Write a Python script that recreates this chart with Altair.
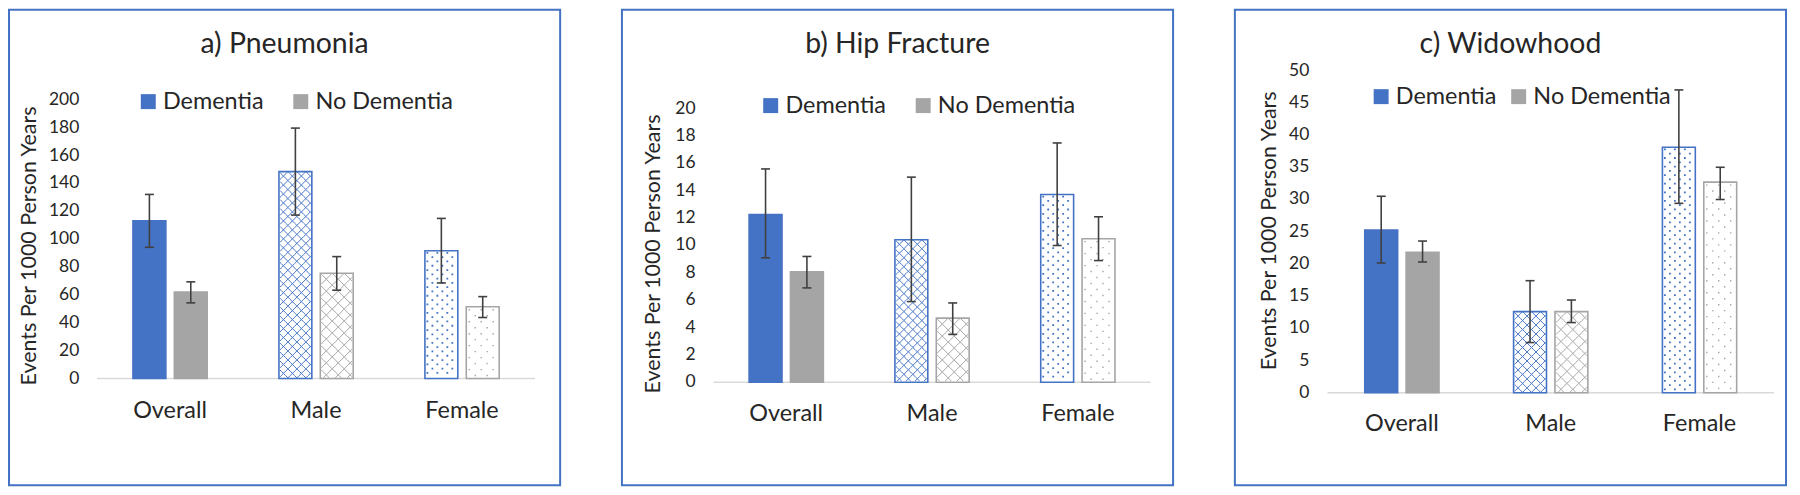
import altair as alt
import pandas as pd

# ---------------- data ----------------
categories = ["Overall", "Male", "Female"]
groups = ["Dementia", "No Dementia"]
titles = ["a) Pneumonia", "b) Hip Fracture", "c) Widowhood"]
y_title = "Events Per 1000 Person Years"

pneu_dem = [113.2, 148.5, 91.7]
pneu_dem_lo = [94.2, 117.3, 68.6]
pneu_dem_hi = [132.1, 179.7, 114.9]
pneu_nodem = [62.0, 75.6, 51.5]
pneu_nodem_lo = [54.3, 63.4, 43.8]
pneu_nodem_hi = [69.4, 87.5, 58.8]
pneu_ticks = [0, 20, 40, 60, 80, 100, 120, 140, 160, 180, 200]

hip_dem = [12.27, 10.42, 13.73]
hip_dem_lo = [9.1, 5.9, 10.0]
hip_dem_hi = [15.6, 15.0, 17.5]
hip_nodem = [8.07, 4.69, 10.5]
hip_nodem_lo = [6.9, 3.5, 8.9]
hip_nodem_hi = [9.2, 5.8, 12.1]
hip_ticks = [0, 2, 4, 6, 8, 10, 12, 14, 16, 18, 20]

wid_dem = [25.25, 12.6, 38.1]
wid_dem_lo = [20.15, 7.8, 29.4]
wid_dem_hi = [30.5, 17.4, 47.0]
wid_nodem = [21.8, 12.6, 32.7]
wid_nodem_lo = [20.3, 10.9, 30.0]
wid_nodem_hi = [23.55, 14.4, 35.0]
wid_ticks = [0, 5, 10, 15, 20, 25, 30, 35, 40, 45, 50]

# ---------------- style ----------------
BLUE = "#4472C4"
GRAY = "#A5A5A5"
TXT = "#262626"
FONT = "Lato"
W, H = 553, 477
BW, GAP = 33.0, 8.5
HATCH_P = {"D": 9.0, "N": 12.0}
DOT_H = {"D": 10.0, "N": 12.0}
DOT_R = {"D": 4.3, "N": 6.0}
DOT_S = {"D": 1.8, "N": 1.4}


def fmt(v):
    return f"{v:.4f}"


def hatch_path(bw, P, r, phase):
    half = bw / 2
    lo, hi = -half + 1.0, half - 1.0
    off = (phase + 0.5) * r
    segs = []
    n = int(bw / P) + 6
    for m in range(-4, n):
        c = m * P - half + off
        y1, y2 = -r / 2, r / 2
        x1, x2 = y1 + c, y2 + c
        if x2 < lo or x1 > hi:
            continue
        if x1 < lo:
            y1 += lo - x1
            x1 = lo
        if x2 > hi:
            y2 -= x2 - hi
            x2 = hi
        segs.append((x1, y1, x2, y2))
    for m in range(-4, n + 4):
        c = m * P - half - off
        ya, yb = -r / 2, r / 2
        xa, xb = c - ya, c - yb
        if xa < lo or xb > hi:
            continue
        if xa > hi:
            ya += xa - hi
            xa = hi
        if xb < lo:
            yb -= lo - xb
            xb = lo
        segs.append((xa, ya, xb, yb))
    s = half
    return "".join(
        f"M{fmt(a / s)},{fmt(b / s)}L{fmt(c / s)},{fmt(d / s)}" for a, b, c, d in segs
    )


def dot_path(bw, Hp, d, phase):
    half = bw / 2
    s = half
    x = Hp / 4 + phase * Hp / 2
    parts = []
    while x < bw - 1.5:
        if x > 1.5:
            cx = x - half
            parts.append(
                f"M{fmt((cx - d / 2) / s)},{fmt((-d / 2) / s)}h{fmt(d / s)}v{fmt(d / s)}h{fmt(-d / s)}z"
            )
        x += Hp
    return "".join(parts)


shape_domain = []
shape_range = []
for g in ["D", "N"]:
    for p in range(4):
        shape_domain.append(f"h{g}{p}")
        shape_range.append(hatch_path(BW, HATCH_P[g], HATCH_P[g] / 4, p))
for g in ["D", "N"]:
    for p in range(2):
        shape_domain.append(f"d{g}{p}")
        shape_range.append(dot_path(BW, DOT_H[g], DOT_S[g], p))
shape_scale = alt.Scale(domain=shape_domain, range=shape_range)
cscale = alt.Scale(domain=groups, range=[BLUE, GRAY])


def make_df(dem, dlo, dhi, nd, nlo, nhi):
    rows = []
    for i, c in enumerate(categories):
        rows.append(dict(category=c, group=groups[0], value=dem[i], lo=dlo[i], hi=dhi[i]))
        rows.append(dict(category=c, group=groups[1], value=nd[i], lo=nlo[i], hi=nhi[i]))
    return pd.DataFrame(rows)


def panel(df, title, ticks, lay):
    y0, y1 = lay["yr"]
    x0, x1 = lay["xr"]
    ppu = (y0 - y1) / ticks[-1]
    band = (x1 - x0) / 3
    step = BW + GAP
    pi = GAP / step
    po = (band / step - 2 + pi) / 2

    xscale = alt.Scale(domain=categories, range=[x0, x1], paddingInner=0, paddingOuter=0)
    xoff = alt.XOffset("group:N", scale=alt.Scale(domain=groups, paddingInner=pi, paddingOuter=po))
    yscale = alt.Scale(domain=[ticks[0], ticks[-1]], range=[y0, y1], nice=False, zero=True)

    legend = alt.Legend(
        orient="none", legendX=lay["lx"], legendY=lay["ly"], direction="horizontal",
        title=None, symbolType="square", symbolSize=225, symbolStrokeWidth=0,
        labelFontSize=23.5, labelFont=FONT, labelColor=TXT, labelOffset=3,
        columnPadding=lay["cp"], padding=0, labelLimit=300,
    )

    base = alt.Chart(df)
    Xn = alt.X("category:N", scale=xscale, axis=None, sort=categories)

    # x-axis baseline (value 0 through the y scale)
    baseline = alt.Chart(pd.DataFrame({"z": [ticks[0]]})).mark_rule(
        color="#D9D9D9", strokeWidth=1.5
    ).encode(
        y=alt.Y("z:Q", scale=yscale, axis=None),
        x=alt.value(x0), x2=alt.value(x1),
    )

    bars = base.mark_bar(strokeWidth=1.6).encode(
        x=Xn,
        xOffset=xoff,
        y=alt.Y("value:Q", scale=yscale, axis=None),
        fill=alt.condition(
            "datum.category == 'Overall'",
            alt.Fill("group:N", scale=cscale, legend=legend),
            alt.value("white"),
        ),
        stroke=alt.Stroke("group:N", scale=cscale, legend=None),
    )

    rsD_h = (HATCH_P["D"] / 4) / ppu
    rsN_h = (HATCH_P["N"] / 4) / ppu
    rsD_d = DOT_R["D"] / ppu
    rsN_d = DOT_R["N"] / ppu

    hatch = (
        base.transform_filter("datum.category == 'Male'")
        .transform_calculate(rs=f"datum.group == 'Dementia' ? {rsD_h} : {rsN_h}")
        .transform_calculate(k="sequence(0, floor(datum.value / datum.rs))")
        .transform_flatten(["k"])
        .transform_calculate(
            yy="datum.value - (datum.k + 0.5) * datum.rs",
            ph="'h' + (datum.group == 'Dementia' ? 'D' : 'N') + (datum.k % 4)",
        )
        .mark_point(size=BW * BW, filled=False, strokeWidth=1.0, opacity=1)
        .encode(
            x=Xn, xOffset=xoff,
            y=alt.Y("yy:Q", scale=yscale, axis=None),
            shape=alt.Shape("ph:N", scale=shape_scale, legend=None),
            stroke=alt.Stroke("group:N", scale=cscale, legend=None),
        )
    )
    dots = (
        base.transform_filter("datum.category == 'Female'")
        .transform_calculate(rs=f"datum.group == 'Dementia' ? {rsD_d} : {rsN_d}")
        .transform_calculate(k="sequence(0, floor(datum.value / datum.rs))")
        .transform_flatten(["k"])
        .transform_calculate(
            yy="datum.value - (datum.k + 0.5) * datum.rs",
            ph="'d' + (datum.group == 'Dementia' ? 'D' : 'N') + (datum.k % 2)",
        )
        .mark_point(size=BW * BW, filled=True, strokeWidth=0, opacity=1)
        .encode(
            x=Xn, xOffset=xoff,
            y=alt.Y("yy:Q", scale=yscale, axis=None),
            shape=alt.Shape("ph:N", scale=shape_scale, legend=None),
            fill=alt.Fill("group:N", scale=cscale, legend=None),
        )
    )

    rules = base.mark_rule(color="#404040", strokeWidth=1.6).encode(
        x=Xn, xOffset=xoff,
        y=alt.Y("lo:Q", scale=yscale, axis=None), y2="hi:Q",
    )
    cap_lo = base.mark_tick(color="#404040", thickness=1.6, size=9, opacity=1).encode(
        x=Xn, xOffset=xoff, y=alt.Y("lo:Q", scale=yscale, axis=None),
    )
    cap_hi = base.mark_tick(color="#404040", thickness=1.6, size=9, opacity=1).encode(
        x=Xn, xOffset=xoff, y=alt.Y("hi:Q", scale=yscale, axis=None),
    )

    # y tick labels (through the y scale)
    ylab = alt.Chart(pd.DataFrame({"tick": ticks})).mark_text(
        font=FONT, fontSize=17.5, color=TXT, align="right", baseline="middle"
    ).encode(
        y=alt.Y("tick:Q", scale=yscale, axis=None),
        x=alt.value(lay["lr"]),
        text=alt.Text("tick:Q", format="d"),
    )
    # category labels (through the x scale)
    xlab = alt.Chart(pd.DataFrame({"category": categories})).mark_text(
        font=FONT, fontSize=23.5, color=TXT, align="center", baseline="middle"
    ).encode(
        x=Xn,
        y=alt.value(lay["xly"]),
        text="category:N",
    )
    ytitle = alt.Chart(pd.DataFrame({"t": [y_title]})).mark_text(
        font=FONT, fontSize=21.5, color=TXT, align="center", baseline="middle", angle=270
    ).encode(x=alt.value(lay["tx"]), y=alt.value(lay["ty"]), text="t:N")

    ttl = alt.Chart(pd.DataFrame({"t": [title]})).mark_text(
        font=FONT, fontSize=28.5, color=TXT, align="center", baseline="middle"
    ).encode(x=alt.value(W / 2), y=alt.value(lay["ty0"]), text="t:N")

    return alt.layer(
        baseline, bars, hatch, dots, rules, cap_lo, cap_hi, ylab, xlab, ytitle, ttl
    ).properties(width=W, height=H)


lay_a = dict(yr=[370, 90.3], xr=[88.4, 527.8], lr=70.5, tx=21.5, ty=237, xly=402.7,
             lx=128, ly=80, cp=25, ty0=34.3)
lay_b = dict(yr=[373.7, 99.3], xr=[91.7, 530.6], lr=73.9, tx=32.4, ty=245, xly=406,
             lx=137.5, ly=84, cp=25, ty0=34)
lay_c = dict(yr=[384.3, 61], xr=[92.9, 540.9], lr=74.7, tx=34.8, ty=221.8, xly=416,
             lx=135, ly=75, cp=10, ty0=34)

pa = panel(make_df(pneu_dem, pneu_dem_lo, pneu_dem_hi, pneu_nodem, pneu_nodem_lo, pneu_nodem_hi),
           titles[0], pneu_ticks, lay_a)
pb = panel(make_df(hip_dem, hip_dem_lo, hip_dem_hi, hip_nodem, hip_nodem_lo, hip_nodem_hi),
           titles[1], hip_ticks, lay_b)
pc = panel(make_df(wid_dem, wid_dem_lo, wid_dem_hi, wid_nodem, wid_nodem_lo, wid_nodem_hi),
           titles[2], wid_ticks, lay_c)

chart = (
    alt.hconcat(pa, pb, pc, spacing=60)
    .resolve_scale(x="independent", y="independent", fill="independent", stroke="independent",
                   shape="independent", xOffset="independent")
    .properties(padding={"left": 0, "top": 0, "right": 5, "bottom": 5}, background="white")
    .configure_view(stroke=BLUE, strokeWidth=2)
    .configure_text(font=FONT)
)

chart.save("out.html", embed_options={"renderer": "svg", "actions": False})
